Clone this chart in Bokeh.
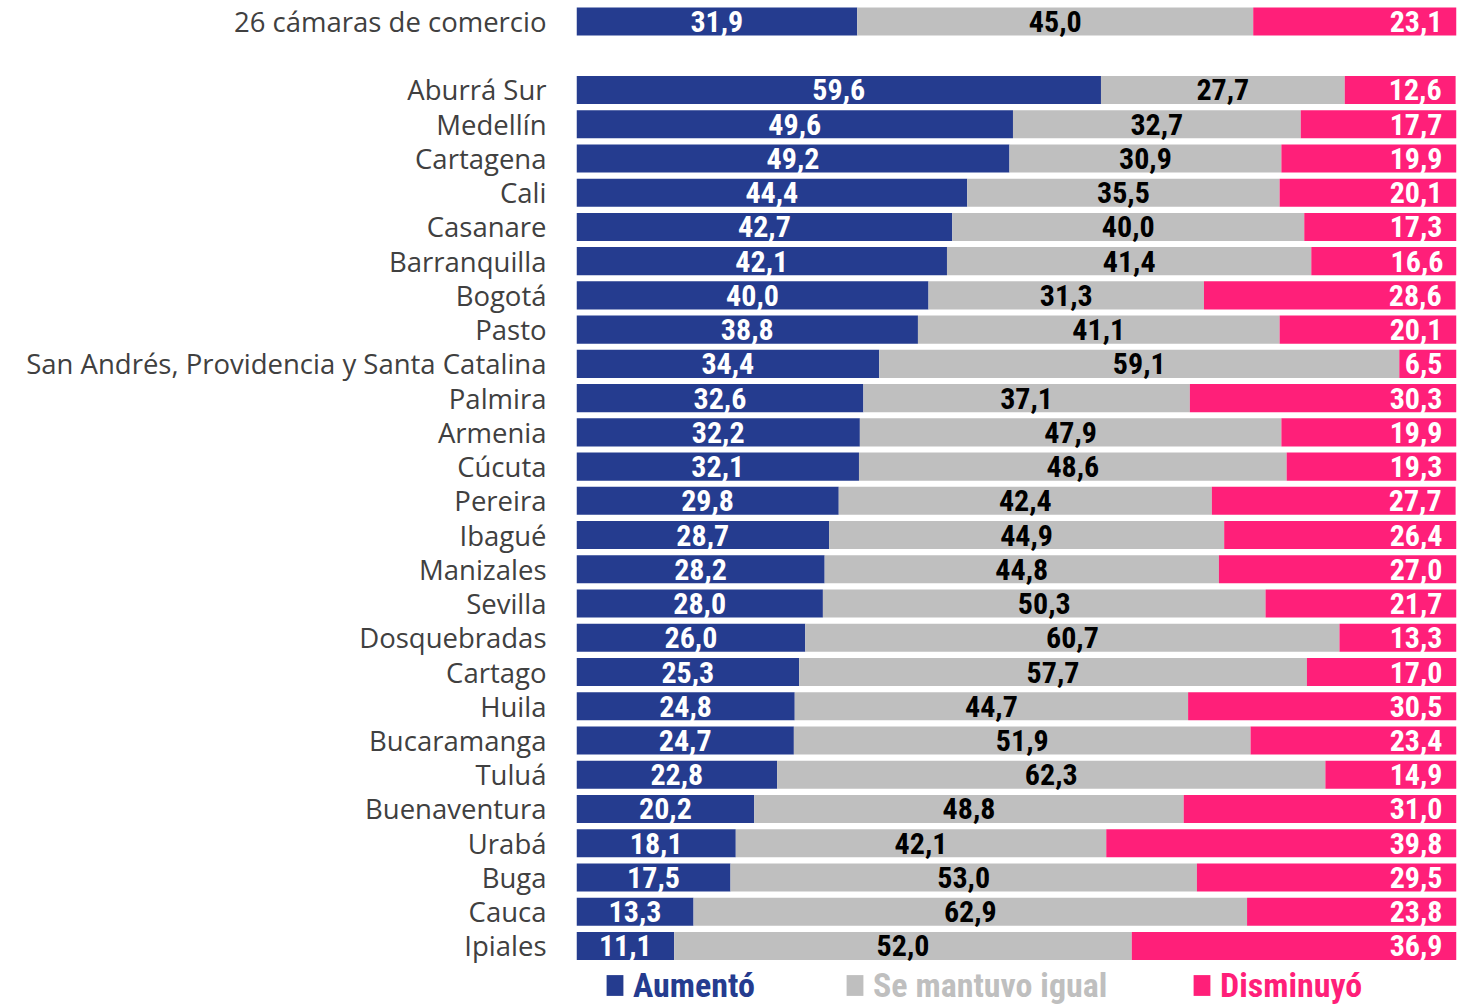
from bokeh.plotting import figure
from bokeh.models import ColumnDataSource, Range1d, FixedTicker, Legend, LegendItem
from bokeh.core.properties import value
from bokeh.embed import file_html
from bokeh.resources import INLINE

categories = [
    "26 cámaras de comercio", "Aburrá Sur", "Medellín", "Cartagena", "Cali", "Casanare",
    "Barranquilla", "Bogotá", "Pasto", "San Andrés, Providencia y Santa Catalina",
    "Palmira", "Armenia", "Cúcuta", "Pereira", "Ibagué", "Manizales", "Sevilla",
    "Dosquebradas", "Cartago", "Huila", "Bucaramanga", "Tuluá", "Buenaventura",
    "Urabá", "Buga", "Cauca", "Ipiales",
]
aumento = [31.9, 59.6, 49.6, 49.2, 44.4, 42.7, 42.1, 40.0, 38.8, 34.4, 32.6, 32.2, 32.1,
           29.8, 28.7, 28.2, 28.0, 26.0, 25.3, 24.8, 24.7, 22.8, 20.2, 18.1, 17.5, 13.3, 11.1]
igual = [45.0, 27.7, 32.7, 30.9, 35.5, 40.0, 41.4, 31.3, 41.1, 59.1, 37.1, 47.9, 48.6,
         42.4, 44.9, 44.8, 50.3, 60.7, 57.7, 44.7, 51.9, 62.3, 48.8, 42.1, 53.0, 62.9, 52.0]
disminuyo = [23.1, 12.6, 17.7, 19.9, 20.1, 17.3, 16.6, 28.6, 20.1, 6.5, 30.3, 19.9, 19.3,
             27.7, 26.4, 27.0, 21.7, 13.3, 17.0, 30.5, 23.4, 14.9, 31.0, 39.8, 29.5, 23.8, 36.9]
series_names = ["Aumentó", "Se mantuvo igual", "Disminuyó"]

BLUE = "#253C8F"
GRAY = "#BFBFBF"
PINK = "#FF1F79"
NUM_FONT = "'Liberation Sans Narrow', 'Arial Narrow', 'Roboto Condensed', sans-serif"
LAB_FONT = "'Open Sans', 'Noto Sans', sans-serif"

def fmt(v):
    return f"{v:.1f}".replace(".", ",")

ypos = [0] + [i + 1 for i in range(1, len(categories))]

src = ColumnDataSource(dict(
    y=ypos,
    a=aumento,
    g=igual,
    d=disminuyo,
    a_mid=[a / 2 for a in aumento],
    g_mid=[a + g / 2 for a, g in zip(aumento, igual)],
    total=[a + g + d for a, g, d in zip(aumento, igual, disminuyo)],
    a_lab=[fmt(v) for v in aumento],
    g_lab=[fmt(v) for v in igual],
    d_lab=[fmt(v) for v in disminuyo],
))

p = figure(width=1465, height=1005, output_backend="svg", toolbar_location=None,
           x_range=Range1d(0, 100), y_range=Range1d(28.74, -0.613),
           x_axis_location=None, min_border_left=576, min_border_right=9,
           min_border_top=0, min_border_bottom=0)
p.outline_line_color = None
p.xgrid.visible = False
p.ygrid.visible = False

rs = p.hbar_stack(["a", "g", "d"], y="y", height=0.82, color=[BLUE, GRAY, PINK],
                  line_color=None, source=src)

common = dict(y="y", source=src, text_font=value(NUM_FONT), text_font_size="30px",
              text_font_style="bold", text_baseline="middle", y_offset=0)
p.text(x="a_mid", text="a_lab", text_color="white", text_align="center", **common)
p.text(x="g_mid", text="g_lab", text_color="black", text_align="center", **common)
p.text(x="total", text="d_lab", text_color="white", text_align="right", x_offset=-14, **common)

yax = p.yaxis[0]
yax.ticker = FixedTicker(ticks=ypos)
yax.major_label_overrides = {y: c for y, c in zip(ypos, categories)}
yax.axis_line_color = None
yax.major_tick_line_color = None
yax.minor_tick_line_color = None
yax.major_label_standoff = 24
yax.major_label_text_font = LAB_FONT
yax.major_label_text_font_size = "27.5px"
yax.major_label_text_color = "#404040"

for r, name, col, xloc in zip(rs, series_names, [BLUE, GRAY, PINK], [28, 268, 615]):
    leg = Legend(items=[LegendItem(label=name, renderers=[r])], location=(xloc, 0),
                 orientation="horizontal", padding=0, margin=0, glyph_width=21,
                 glyph_height=26, label_standoff=8, border_line_color=None,
                 background_fill_alpha=0, label_text_font=NUM_FONT,
                 label_text_font_size="34px", label_text_font_style="bold",
                 label_text_color=col)
    p.add_layout(leg, "center")

open("out.html", "w").write(file_html(p, INLINE))
